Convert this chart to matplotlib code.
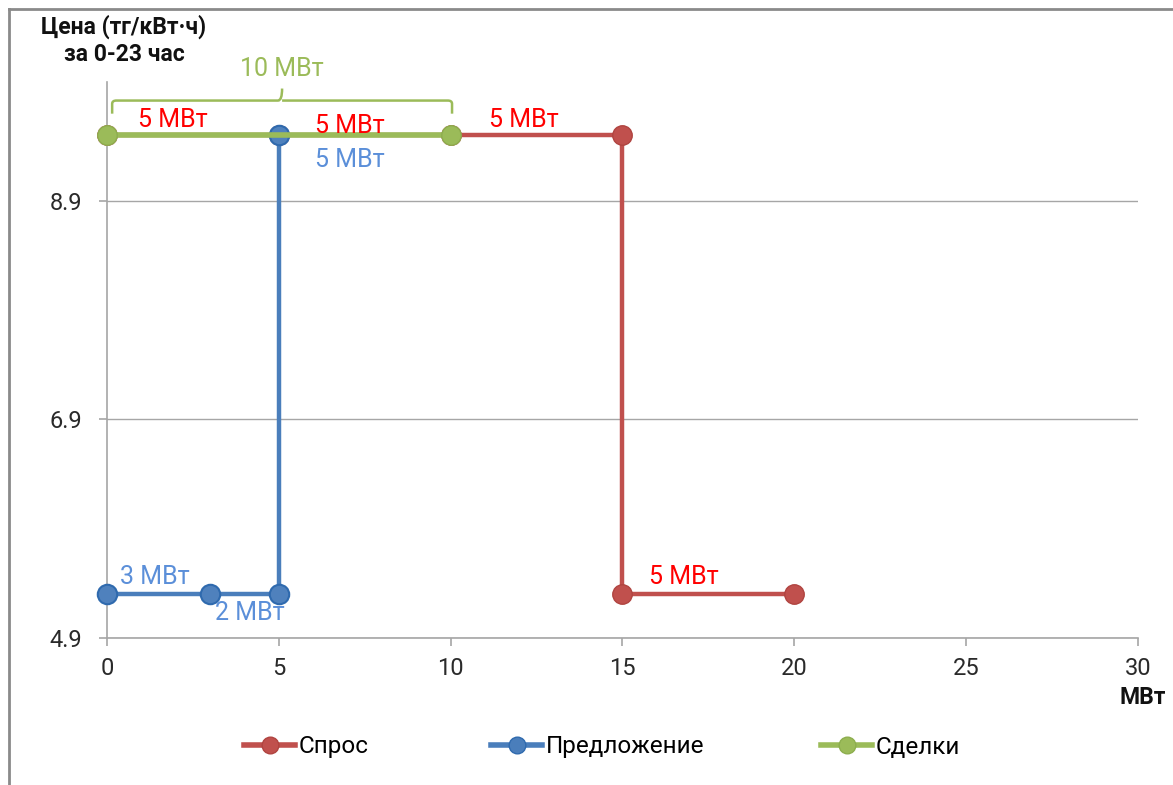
import matplotlib
matplotlib.use("Agg")
import matplotlib.pyplot as plt
from matplotlib.lines import Line2D
from matplotlib.path import Path
from matplotlib.patches import PathPatch
from matplotlib import font_manager as fm

# ---- data ----
demand_x = [0, 5, 10, 15, 15, 20]
demand_y = [9.5, 9.5, 9.5, 9.5, 5.3, 5.3]
supply_x = [0, 3, 5, 5]
supply_y = [5.3, 5.3, 5.3, 9.5]
deals_x = [0, 10]
deals_y = [9.5, 9.5]
series_names = ["Спрос", "Предложение", "Сделки"]
y_ticks = [4.9, 6.9, 8.9]
x_ticks = [0, 5, 10, 15, 20, 25, 30]
y_title = "Цена (тг/кВт·ч)\nза 0-23 час"
x_title = "МВт"
deals_label = "10 МВт"
seg_labels = ["5 МВт", "5 МВт", "5 МВт", "5 МВт", "5 МВт", "3 МВт", "2 МВт"]

RED = "#C0504D"
BLUE = "#4A7EBB"
GREEN = "#9BBB59"

def has_font(name):
    try:
        fm.findfont(fm.FontProperties(family=name), fallback_to_default=False)
        return True
    except Exception:
        return False

main_font = "Roboto" if has_font("Roboto") else "DejaVu Sans"
plt.rcParams["font.family"] = [main_font, "DejaVu Sans"]

W, H = 1173, 785
fig = plt.figure(figsize=(W / 100, H / 100), dpi=100)
ax = fig.add_axes([107 / W, 1 - 637.7 / H, (1138 - 107) / W, (637.7 - 82) / H])
ax.set_xlim(0, 30)
ax.set_ylim(4.9, 9.99)

ax.plot(demand_x, demand_y, color=RED, lw=3.2, marker="o", ms=14,
        mfc=RED, mec="#B04440", mew=1, zorder=3, clip_on=False)
ax.plot(supply_x, supply_y, color=BLUE, lw=3.2, marker="o", ms=14,
        mfc="#4F81BD", mec="#2F6AAE", mew=1.5, zorder=4, clip_on=False)
ax.plot(deals_x, deals_y, color=GREEN, lw=4, marker="o", ms=14,
        mfc=GREEN, mec="#8DAE4E", mew=1, zorder=5, clip_on=False)

for s in ["top", "right"]:
    ax.spines[s].set_visible(False)
for s in ["left", "bottom"]:
    ax.spines[s].set_color("#A6A6A6")
    ax.spines[s].set_linewidth(1.2)

ax.set_yticks(y_ticks)
ax.set_yticklabels([f"{v:.1f}" for v in y_ticks])
ax.set_xticks(x_ticks)
ax.tick_params(axis="both", colors="#A6A6A6", labelcolor="#2A2A2A",
               labelsize=17, length=6, width=1.2, direction="out")
ax.tick_params(axis="y", pad=12)
ax.tick_params(axis="x", pad=8)
ax.grid(axis="y", color="#A6A6A6", lw=1.0)
ax.set_axisbelow(True)

lab_fs = 18
LBL_RED = "#FF0000"
LBL_BLUE = "#5B8FD9"
seg_x = [1.92, 7.07, 12.13, 7.07, 16.79, 1.40, 4.16]
seg_y = [9.64, 9.59, 9.64, 9.28, 5.46, 5.46, 5.13]
seg_c = [LBL_RED, LBL_RED, LBL_RED, LBL_BLUE, LBL_RED, LBL_BLUE, LBL_BLUE]
for t, x, y, c in zip(seg_labels, seg_x, seg_y, seg_c):
    ax.text(x, y, t, color=c, fontsize=lab_fs, ha="center", va="center", zorder=7)

# bracket over deals
x0, x1 = deals_x[0] + 0.15, deals_x[-1] + 0.04
xm = (x0 + x1) / 2
yb, yh, yp = 9.70, 9.82, 9.93
r = 0.12
verts = [(x0, yb), (x0, yh - 0.03), (x0, yh), (x0 + r, yh),
         (xm - r, yh), (xm, yh), (xm, yp),
         (xm, yh), (xm + r, yh),
         (x1 - r, yh), (x1, yh), (x1, yh - 0.03), (x1, yb)]
codes = [Path.MOVETO, Path.LINETO, Path.CURVE3, Path.CURVE3,
         Path.LINETO, Path.CURVE3, Path.CURVE3,
         Path.MOVETO, Path.CURVE3,
         Path.LINETO, Path.CURVE3, Path.CURVE3, Path.LINETO]
ax.add_patch(PathPatch(Path(verts, codes), fill=False, ec=GREEN, lw=1.8,
                       clip_on=False, zorder=6))
ax.text(xm, 10.11, deals_label, color=GREEN, fontsize=lab_fs, ha="center", va="center",
        clip_on=False)

# titles
fig.text(124 / W, 1 - 40 / H, y_title, ha="center", va="center", fontsize=16.5,
         fontweight="bold", color="#111111", linespacing=1.2)
fig.text(1143 / W, 1 - 697 / H, x_title, ha="center", va="center", fontsize=16.5,
         fontweight="bold", color="#111111")

# legends (one entry each, placed individually)
colors = [RED, BLUE, GREEN]
mecs = ["#B04440", "#2F6AAE", "#8DAE4E"]
xs = [244, 491, 821]
for name, c, mc, xp in zip(series_names, colors, mecs, xs):
    h = Line2D([], [], color=c, lw=4, marker="o", ms=12, mfc=c, mec=mc)
    fig.legend(handles=[h], labels=[name], loc="center left",
               bbox_to_anchor=(xp / W, 1 - 747 / H), frameon=False,
               handlelength=2.1, handletextpad=0.15, borderpad=0, borderaxespad=0,
               prop={"family": [main_font, "DejaVu Sans"], "size": 17.5})

# frame lines (top and left)
fig.add_artist(Line2D([9 / W, 1], [1 - 9 / H, 1 - 9 / H], transform=fig.transFigure,
                      color="#8A8A8A", lw=2))
fig.add_artist(Line2D([9 / W, 9 / W], [0, 1 - 9 / H], transform=fig.transFigure,
                      color="#8A8A8A", lw=2))

fig.savefig("out.png", dpi=100)
